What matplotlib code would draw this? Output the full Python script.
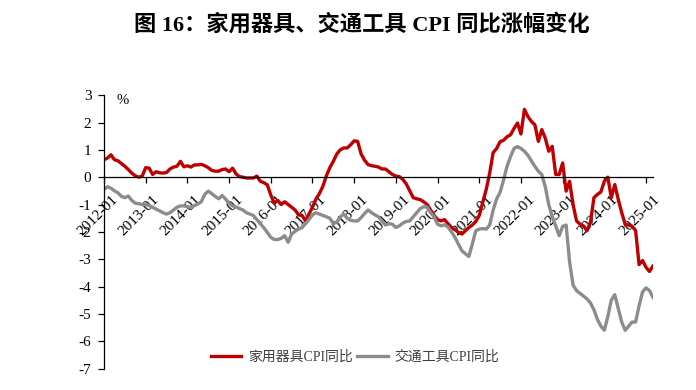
import matplotlib
matplotlib.use("Agg")
import matplotlib.pyplot as plt
import matplotlib.transforms as mtransforms
import numpy as np

plt.rcParams["font.family"] = ["Liberation Serif", "Noto Sans CJK SC"]
plt.rcParams["axes.unicode_minus"] = False

# monthly values, 2012-01 .. 2025-03
appliance = [
    0.64, 0.70, 0.82, 0.64, 0.60, 0.50, 0.40, 0.28, 0.15, 0.05, 0.00, 0.04,
    0.35, 0.33, 0.10, 0.20, 0.16, 0.15, 0.17, 0.30, 0.37, 0.40, 0.58, 0.38,
    0.42, 0.37, 0.45, 0.45, 0.47, 0.42, 0.35, 0.25, 0.22, 0.22, 0.28, 0.30,
    0.20, 0.33, 0.12, 0.02, 0.00, -0.03, -0.03, -0.03, 0.04, -0.15, -0.20, -0.28,
    -0.65, -0.95, -0.85, -1.00, -0.90, -1.00, -1.10, -1.20, -1.38, -1.40, -1.60, -1.35,
    -1.10, -0.80, -0.60, -0.33, 0.05, 0.35, 0.58, 0.85, 1.00, 1.07, 1.07, 1.19,
    1.33, 1.31, 0.85, 0.62, 0.46, 0.42, 0.40, 0.37, 0.30, 0.30, 0.20, 0.10,
    0.04, 0.02, -0.08, -0.25, -0.50, -0.75, -0.79, -0.82, -0.90, -1.00, -1.20, -1.40,
    -1.55, -1.60, -1.55, -1.70, -1.84, -1.92, -2.02, -2.08, -1.96, -1.84, -1.75, -1.62,
    -1.40, -0.93, -0.45, 0.15, 0.90, 1.05, 1.30, 1.35, 1.48, 1.55, 1.78, 1.98,
    1.58, 2.48, 2.22, 2.04, 1.92, 1.31, 1.74, 1.43, 0.95, 1.13, 0.10, 0.10,
    0.52, -0.51, -0.15, -1.00, -1.60, -1.72, -1.78, -1.96, -1.66, -0.75, -0.63, -0.54,
    -0.15, 0.00, -0.75, -0.27, -0.81, -1.30, -1.72, -1.75, -1.80, -1.95, -3.20, -3.05,
    -3.30, -3.45, -3.25,
]
transport = [
    -0.45, -0.35, -0.40, -0.50, -0.57, -0.70, -0.75, -0.69, -0.85, -0.95, -0.97, -1.00,
    -1.00, -1.04, -1.10, -1.17, -1.23, -1.30, -1.35, -1.30, -1.20, -1.10, -1.05, -1.05,
    -1.08, -1.10, -1.04, -0.98, -0.90, -0.63, -0.51, -0.60, -0.70, -0.79, -0.67, -0.80,
    -0.95, -1.05, -1.09, -1.15, -1.20, -1.30, -1.35, -1.40, -1.55, -1.70, -1.85, -2.02,
    -2.20, -2.28, -2.28, -2.24, -2.14, -2.38, -2.08, -1.98, -1.90, -1.84, -1.70, -1.55,
    -1.38, -1.30, -1.35, -1.40, -1.45, -1.50, -1.70, -1.65, -1.45, -1.35, -1.50, -1.58,
    -1.60, -1.60, -1.48, -1.33, -1.20, -1.30, -1.38, -1.45, -1.60, -1.75, -1.70, -1.72,
    -1.84, -1.78, -1.68, -1.62, -1.60, -1.45, -1.30, -1.15, -1.08, -1.10, -1.30, -1.45,
    -1.72, -1.78, -1.74, -1.82, -2.00, -2.20, -2.45, -2.69, -2.80, -2.90, -2.45, -1.96,
    -1.90, -1.88, -1.90, -1.75, -1.20, -0.80, -0.55, -0.10, 0.40, 0.75, 1.05, 1.12,
    1.05, 0.95, 0.80, 0.60, 0.40, 0.22, 0.10, -0.35, -1.00, -1.45, -1.78, -2.14,
    -1.80, -1.75, -3.10, -3.95, -4.15, -4.25, -4.35, -4.45, -4.60, -4.85, -5.20, -5.45,
    -5.60, -5.10, -4.50, -4.30, -4.80, -5.30, -5.60, -5.45, -5.30, -5.30, -4.70, -4.20,
    -4.05, -4.15, -4.40,
]
years = list(range(2012, 2026))
tick_labels = [f"{y}-01" for y in years]
series_names = ["家用器具CPI同比", "交通工具CPI同比"]

fig = plt.figure(figsize=(6.96, 3.90), dpi=100)
ax = fig.add_axes([0.1494, 0.0551, 0.7888, 0.7008])

x = np.arange(len(appliance))
ax.plot(x, appliance, color="#C00000", lw=2.4, label=series_names[0])
ax.plot(x, transport, color="#8C8C8C", lw=2.4, label=series_names[1])

ax.set_xlim(0, len(x) - 1)
ax.set_ylim(-7, 3)
ax.set_yticks(range(-7, 4))
ax.set_yticklabels([str(v) for v in range(-7, 4)], fontsize=11)

ax.spines["top"].set_visible(False)
ax.spines["right"].set_visible(False)
ax.spines["bottom"].set_position(("data", 0))
for s in ("left", "bottom"):
    ax.spines[s].set_linewidth(0.9)
ax.tick_params(axis="both", direction="out", length=4, width=0.9, colors="black")
ax.tick_params(axis="y", pad=5)

ax.set_xticks([12 * i for i in range(len(years))])
ax.set_xticklabels(tick_labels, fontsize=11, rotation=45, ha="right",
                   rotation_mode="anchor")
shift = mtransforms.ScaledTranslation(7 / 100, -5 / 100, fig.dpi_scale_trans)
for lab in ax.get_xticklabels():
    lab.set_transform(lab.get_transform() + shift)

ax.text(5.5, 2.79, "%", fontsize=10.5, ha="center", va="center")

leg = ax.legend(loc="center", bbox_to_anchor=(0.457, 0.04), ncol=2, frameon=False,
                fontsize=10, handlelength=2.2, handletextpad=0.5, columnspacing=0.3)
for t in leg.get_texts():
    t.set_color("#404040")

fig.text(0.52, 0.936, "图 16：家用器具、交通工具 CPI 同比涨幅变化", ha="center", va="center",
         fontsize=16, fontweight="bold")

fig.savefig("out.png", dpi=100)
